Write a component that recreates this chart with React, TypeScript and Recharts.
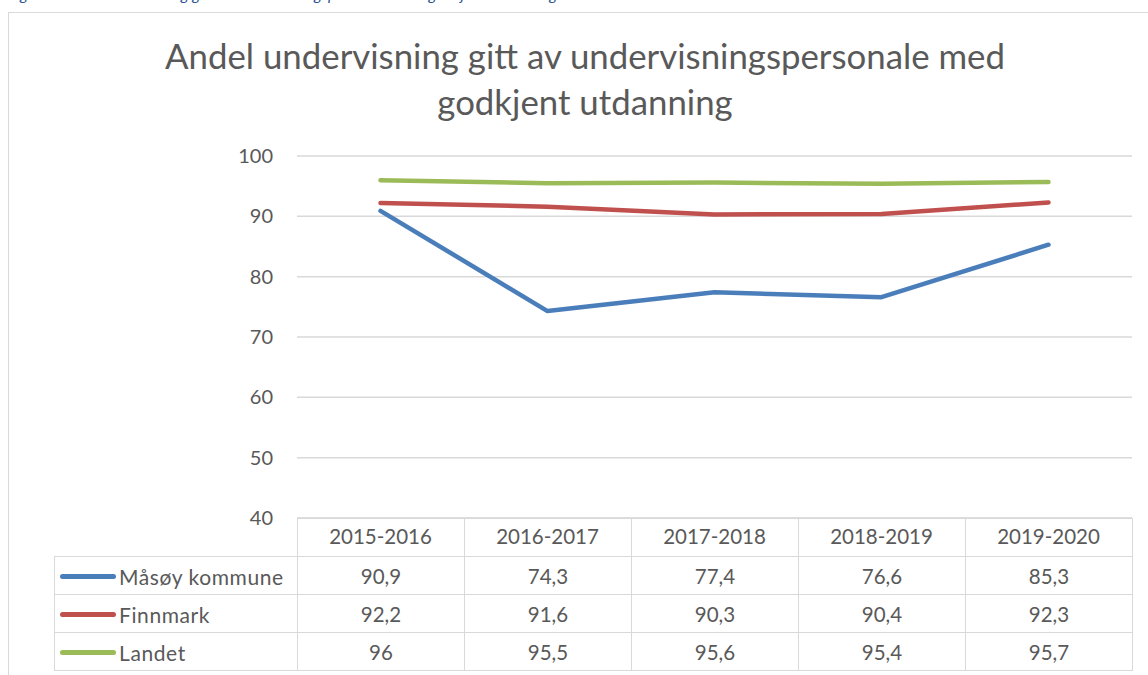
import React from "react";
import { LineChart, Line, XAxis, YAxis, CartesianGrid } from "recharts";

const years = ["2015-2016", "2016-2017", "2017-2018", "2018-2019", "2019-2020"];
const masoy = [90.9, 74.3, 77.4, 76.6, 85.3];
const finnmark = [92.2, 91.6, 90.3, 90.4, 92.3];
const landet = [96, 95.5, 95.6, 95.4, 95.7];
const yTicks = [40, 50, 60, 70, 80, 90, 100];

const series = [
  { key: "masoy", name: "Måsøy kommune", color: "#4a7ebb", values: masoy },
  { key: "finnmark", name: "Finnmark", color: "#c0504d", values: finnmark },
  { key: "landet", name: "Landet", color: "#9bbb59", values: landet },
];

const data = years.map((year, i) => {
  const row: Record<string, string | number> = { year };
  series.forEach((s) => (row[s.key] = s.values[i]));
  return row;
});

const FONT = "Lato, 'Open Sans', sans-serif";
const TEXT = "#595959";
const GRID = "#d9d9d9";

const fmt = (v: number) => String(v).replace(".", ",");

const cell: React.CSSProperties = {
  border: `1px solid ${GRID}`,
  height: 37,
  padding: 0,
  textAlign: "center",
  fontSize: 20.5,
  color: TEXT,
};

const DataTable = () => (
  <table
    style={{
      position: "absolute",
      left: 54,
      top: 518,
      borderCollapse: "collapse",
      tableLayout: "fixed",
      fontFamily: FONT,
    }}
  >
    <colgroup>
      <col style={{ width: 243 }} />
      {years.map((y) => (
        <col key={y} style={{ width: 167 }} />
      ))}
    </colgroup>
    <tbody>
      <tr>
        <td style={{ ...cell, borderTop: "none", borderLeft: "none" }} />
        {years.map((y) => (
          <td key={y} style={cell} />
        ))}
      </tr>
      {series.map((s) => (
        <tr key={s.key}>
          <td style={{ ...cell, textAlign: "left", whiteSpace: "nowrap" }}>
            <span
              style={{
                display: "inline-block",
                width: 56,
                height: 5,
                borderRadius: 3,
                background: s.color,
                marginLeft: 5,
                marginRight: 3,
                verticalAlign: "middle",
              }}
            />
            <span style={{ verticalAlign: "middle", fontSize: 21, letterSpacing: 0.6 }}>{s.name}</span>
          </td>
          {s.values.map((v, i) => (
            <td key={i} style={cell}>
              {fmt(v)}
            </td>
          ))}
        </tr>
      ))}
    </tbody>
  </table>
);

export default function App() {
  return (
    <div
      style={{
        position: "absolute",
        left: 0,
        top: 0,
        width: 1148,
        height: 675,
        overflow: "hidden",
        background: "#fff",
        fontFamily: FONT,
      }}
    >
      {/* figure caption above the chart, mostly scrolled off the top */}
      <div
        style={{
          position: "absolute",
          left: 8,
          top: -14,
          fontSize: 16,
          lineHeight: "16px",
          fontStyle: "italic",
          color: "#2e5597",
          whiteSpace: "nowrap",
        }}
      >
        Figur 9: Andel undervisning gitt av undervisningspersonale med godkjent utdanning
      </div>
      <div
        style={{
          position: "absolute",
          left: 8,
          top: 12,
          width: 1200,
          height: 700,
          border: `1px solid ${GRID}`,
        }}
      />
      <div
        style={{
          position: "absolute",
          left: 8,
          width: 1154,
          top: 33,
          textAlign: "center",
          fontSize: 34.8,
          lineHeight: "46px",
          color: TEXT,
          whiteSpace: "nowrap",
        }}
      >
        Andel undervisning gitt av undervisningspersonale med
        <br />
        godkjent utdanning
      </div>
      <DataTable />
      <div style={{ position: "absolute", left: 0, top: 0 }}>
        <LineChart
          width={1148}
          height={675}
          data={data}
          margin={{ top: 156, right: 16, left: 257, bottom: 120 }}
        >
          <CartesianGrid vertical={false} stroke={GRID} strokeWidth={1.5} />
          <XAxis
            dataKey="year"
            padding={{ left: 83.5, right: 83.5 }}
            axisLine={{ stroke: GRID }}
            tickLine={false}
            tickSize={0}
            tickMargin={11}
            height={37}
            interval={0}
            tick={{ fill: TEXT, fontSize: 20.5, fontFamily: FONT }}
          />
          <YAxis
            domain={[40, 100]}
            ticks={yTicks}
            axisLine={false}
            tickLine={false}
            tickSize={0}
            tickMargin={24}
            width={40}
            tick={{ fill: TEXT, fontSize: 20, fontFamily: FONT }}
          />
          {series.map((s) => (
            <Line
              key={s.key}
              dataKey={s.key}
              name={s.name}
              stroke={s.color}
              strokeWidth={4.5}
              strokeLinecap="round"
              strokeLinejoin="round"
              dot={false}
              type="linear"
              isAnimationActive={false}
            />
          ))}
        </LineChart>
      </div>
    </div>
  );
}
